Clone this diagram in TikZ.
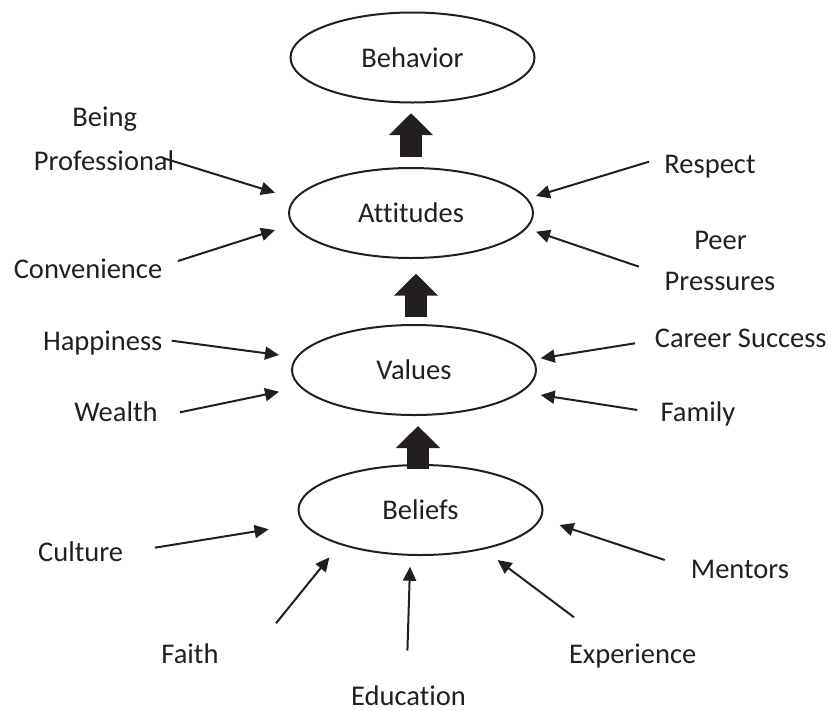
\documentclass[tikz,border=0pt]{standalone}
\usepackage{fontspec}
\setmainfont[Ligatures=NoCommon]{Carlito}
\usetikzlibrary{arrows.meta,shapes.geometric}
\definecolor{ink}{RGB}{35,31,32}
\begin{document}
\begin{tikzpicture}[x=1pt,y=-1pt,
  every node/.style={font=\fontsize{28.5}{34}\selectfont, text=ink},
  oval/.style={ellipse, draw=ink, line width=2pt, minimum width=244pt, minimum height=90pt, inner sep=0pt},
  lbl/.style={anchor=base, inner sep=0pt},
  feed/.style={draw=ink, line width=2pt, -{Triangle[length=14pt,width=13pt]}},
  blockarrow/.style={draw=ink, line width=21.5pt, -{Triangle[length=22pt,width=43pt]}}]
\useasboundingbox (0,0) rectangle (833,710);

% main ellipses
\node[oval] (behavior)  at (412.5,57.5) {Behavior};
\node[oval] (attitudes) at (411,213)    {Attitudes};
\node[oval] (values)    at (414,370)    {Values};
\node[oval] (beliefs)   at (420.5,510)  {Beliefs};

% block arrows
\draw[blockarrow, shorten <=10pt, shorten >=9.7pt]
  (attitudes.north) -- (attitudes.north |- behavior.south);
\draw[blockarrow, shorten <=7pt, shorten >=14.7pt]
  ([xshift=2pt]values.north) -- ([xshift=2pt]values.north |- attitudes.south);
\draw[blockarrow, shorten <=-5pt, shorten >=10pt]
  ([xshift=-2.5pt]beliefs.north) -- ([xshift=-2.5pt]beliefs.north |- values.south);

% labels
\node[lbl] (being)   at (104.7,126.7) {Being};
\node[lbl] (prof)    at (104,170)     {Professional};
\node[lbl] (conv)    at (88,278)      {Convenience};
\node[lbl] (resp)    at (710,173.3)   {Respect};
\node[lbl] (peer)    at (720.5,249.3) {Peer};
\node[lbl] (press)   at (720,290.7)   {Pressures};
\node[lbl] (happ)    at (102.7,350)   {Happiness};
\node[lbl] (wealth)  at (116,421.7)   {Wealth};
\node[lbl] (career)  at (740.7,347.3) {Career Success};
\node[lbl] (family)  at (698,421)     {Family};
\node[lbl] (culture) at (80.6,561.7)  {Culture};
\node[lbl] (faith)   at (190,663.3)   {Faith};
\node[lbl] (educ)    at (408.5,705.5) {Education};
\node[lbl] (exper)   at (632.7,663.3) {Experience};
\node[lbl] (mentors) at (740,578.3)   {Mentors};

% arrow end points
\coordinate (s-prof)    at (163,158);    \coordinate (t-prof)    at (275,192.7);
\coordinate (s-conv)    at (178,261);    \coordinate (t-conv)    at (275,230);
\coordinate (s-resp)    at (649,161.7);  \coordinate (t-resp)    at (536,196);
\coordinate (s-peer)    at (639,266.7);  \coordinate (t-peer)    at (536,231.7);
\coordinate (s-happ)    at (171.7,340.7);\coordinate (t-happ)    at (279,355);
\coordinate (s-wealth)  at (180,412.3);  \coordinate (t-wealth)  at (279,391.7);
\coordinate (s-career)  at (635,343.3);  \coordinate (t-career)  at (540.7,358.3);
\coordinate (s-family)  at (637.3,410);  \coordinate (t-family)  at (540.7,395);
\coordinate (s-culture) at (154.8,547.7);\coordinate (t-culture) at (268.6,529.3);
\coordinate (s-faith)   at (276,623.3);  \coordinate (t-faith)   at (329.4,557.3);
\coordinate (s-educ)    at (407.4,650.7);\coordinate (t-educ)    at (410,566.7);
\coordinate (s-exper)   at (574,617.3);  \coordinate (t-exper)   at (497.6,560);
\coordinate (s-mentors) at (664.7,560);  \coordinate (t-mentors) at (559.5,525);

\foreach \k in {prof,conv,resp,peer,happ,wealth,career,family,culture,faith,educ,exper,mentors}
  \draw[feed] (s-\k) -- (t-\k);
\end{tikzpicture}
\end{document}
